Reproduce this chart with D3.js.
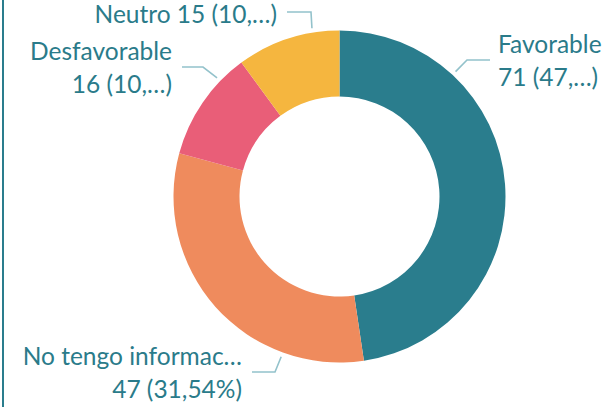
<!DOCTYPE html>
<html>
<head>
<meta charset="utf-8">
<script src="https://cdn.jsdelivr.net/npm/d3@7/dist/d3.min.js"></script>
<style>
  html, body { margin: 0; padding: 0; background: #fff; }
  svg { display: block; }
  text { font-family: Lato, "Open Sans", sans-serif; fill: #2a7b8a; }
</style>
</head>
<body>
<svg id="chart" width="606" height="407"></svg>
<script>
// Opinion counts, in drawing order (clockwise from 12 o'clock)
const categories = ["Favorable", "No tengo información", "Desfavorable", "Neutro"];
const counts = [71, 47, 16, 15];
const sliceColors = ["#2a7d8d", "#ef8b5d", "#e95e78", "#f5b63f"];
// Label text as shown (long names and percentages are truncated)
const labelLine1 = ["Favorable", "No tengo informac…", "Desfavorable", "Neutro 15 (10,…)"];
const labelLine2 = ["71 (47,…)", "47 (31,54%)", "16 (10,…)", ""];

const svg = d3.select("#chart");
const W = 606, H = 407;
const cx = 339.5, cy = 196.5, rOuter = 166, rInner = 100;

// Frame line on the left edge
svg.append("line")
  .attr("x1", 3).attr("x2", 3).attr("y1", 0).attr("y2", H)
  .attr("stroke", "#2a7d8d").attr("stroke-width", 2);

const pie = d3.pie().sort(null).value(d => d)(counts);
const arc = d3.arc().innerRadius(rInner).outerRadius(rOuter);

const g = svg.append("g").attr("transform", `translate(${cx},${cy})`);
g.selectAll("path.slice")
  .data(pie)
  .join("path")
  .attr("class", "slice")
  .attr("d", arc)
  .attr("fill", (d, i) => sliceColors[i]);

// Label layout: text position/alignment, the angle (degrees, clockwise
// from 12 o'clock) where the leader touches the ring, and its elbow/end
const layout = [
  { x: 498, y: 53, anchor: "start", tip: 42.9, elbow: [467, 60], end: [490, 60] },
  { x: 242, y: 365, anchor: "end", tip: 200, elbow: [275, 372], end: [252, 372] },
  { x: 172, y: 60, anchor: "end", tip: 314.1, elbow: [203, 67], end: [182, 67] },
  { x: 277, y: 23, anchor: "end", tip: 350.7, elbow: [311, 12], end: [287, 12] }
];

const leader = d3.line();
const lineGap = 33;

pie.forEach((d, i) => {
  const L = layout[i];
  const a = L.tip * Math.PI / 180;
  const rStart = rOuter + 4.5;
  const sx = cx + Math.sin(a) * rStart;
  const sy = cy - Math.cos(a) * rStart;
  svg.append("path")
    .attr("d", leader([[sx, sy], L.elbow, L.end]))
    .attr("fill", "none")
    .attr("stroke", "#93c2cb")
    .attr("stroke-width", 1.6);

  const t = svg.append("text")
    .attr("text-anchor", L.anchor)
    .attr("font-size", 24.5);
  t.append("tspan").attr("x", L.x).attr("y", L.y).text(labelLine1[i]);
  if (labelLine2[i]) {
    t.append("tspan").attr("x", L.x).attr("y", L.y + lineGap).text(labelLine2[i]);
  }
});
</script>
</body>
</html>
